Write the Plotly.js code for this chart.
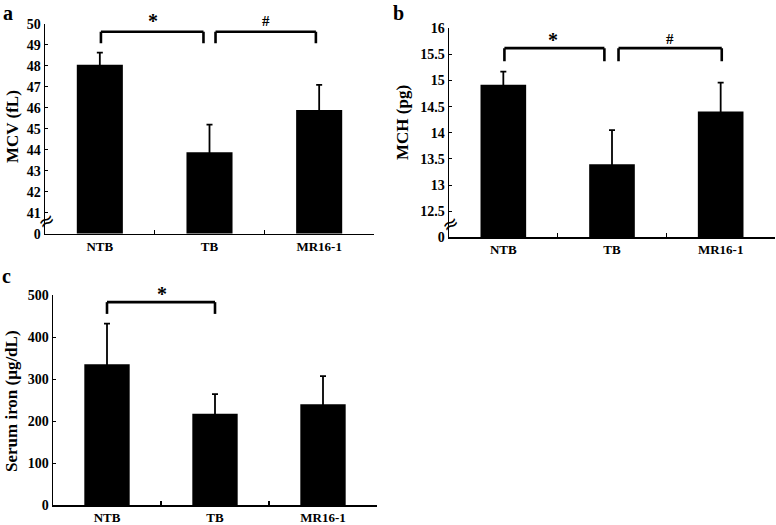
<!DOCTYPE html>
<html>
<head>
<meta charset="utf-8">
<script src="https://cdn.plot.ly/plotly-3.0.1.min.js"></script>
<style>html,body{margin:0;padding:0;background:#fff;}#chart{width:776px;height:525px;}</style>
</head>
<body>
<div id="chart"></div>
<script>
const categories = ['NTB', 'TB', 'MR16-1'];
const mcv = [48.05, 43.88, 45.9];
const mcvErr = [0.58, 1.32, 1.2];
const mch = [14.92, 13.4, 14.41];
const mchErr = [0.25, 0.65, 0.55];
const iron = [335, 217, 240];
const ironErr = [97, 47, 67];
const mcvTickVals = [40, 41, 42, 43, 44, 45, 46, 47, 48, 49, 50];
const mcvTickText = ['0', '41', '42', '43', '44', '45', '46', '47', '48', '49', '50'];
const mchTickVals = [12, 12.5, 13, 13.5, 14, 14.5, 15, 15.5, 16];
const mchTickText = ['0', '12.5', '13', '13.5', '14', '14.5', '15', '15.5', '16'];
const ironTickVals = [0, 100, 200, 300, 400, 500];

const W = 776, H = 525;
const FONT = 'Liberation Serif';

function barTrace(y, err, xa, ya) {
  return {
    type: 'bar', x: categories, y: y, xaxis: xa, yaxis: ya,
    width: 0.42, marker: {color: '#000', line: {width: 0}},
    error_y: {type: 'data', symmetric: true, array: err,
              color: '#000', thickness: 1.8, width: 3},
    showlegend: false, hoverinfo: 'skip'
  };
}

function xAxis(domain, anchor) {
  return {
    domain: domain, anchor: anchor, type: 'category', range: [-0.5, 2.5],
    showline: true, linecolor: '#000', linewidth: 1.5,
    ticks: 'inside', tickson: 'boundaries', ticklen: 4, tickwidth: 1.2, tickcolor: '#000',
    showgrid: false, zeroline: false,
    tickfont: {family: FONT, size: 13, color: '#000', weight: 'bold'}
  };
}
function yAxis(domain, anchor, range, tv, tt) {
  return {
    domain: domain, anchor: anchor, range: range,
    tickmode: 'array', tickvals: tv, ticktext: tt,
    showline: true, linecolor: '#000', linewidth: 1.5,
    ticks: 'inside', ticklen: 3, tickwidth: 1, tickcolor: '#000',
    showgrid: false, zeroline: false,
    tickfont: {family: FONT, size: 14, color: '#000', weight: 'bold'}
  };
}

function bracket(xa, ya, x0, x1, yt, yb) {
  const l = {color: '#000', width: 2.6};
  return [
    {type: 'line', xref: xa, yref: ya, x0: x0, x1: x1, y0: yt, y1: yt, line: l},
    {type: 'line', xref: xa, yref: ya, x0: x0, x1: x0, y0: yt, y1: yb, line: l},
    {type: 'line', xref: xa, yref: ya, x0: x1, x1: x1, y0: yt, y1: yb, line: l}
  ];
}

function ann(text, x, y, size, extra) {
  return Object.assign({
    text: text, x: x / W, y: 1 - y / H, xref: 'paper', yref: 'paper',
    showarrow: false, xanchor: 'center', yanchor: 'middle',
    font: {family: FONT, size: size, color: '#000', weight: 'bold'}
  }, extra || {});
}
function dataAnn(text, xa, ya, x, y, size) {
  return {text: text, xref: xa, yref: ya, x: x, y: y, showarrow: false,
          xanchor: 'center', yanchor: 'middle',
          font: {family: FONT, size: size, color: '#000', weight: 'bold'}};
}

const data = [
  barTrace(mcv, mcvErr, 'x', 'y'),
  barTrace(mch, mchErr, 'x2', 'y2'),
  barTrace(iron, ironErr, 'x3', 'y3')
];

const layout = {
  width: W, height: H,
  margin: {l: 0, r: 0, t: 0, b: 0},
  paper_bgcolor: '#fff', plot_bgcolor: '#fff',
  showlegend: false,
  xaxis: xAxis([45 / W, 374 / W], 'y'),
  yaxis: yAxis([1 - 233.6 / H, 1 - 24 / H], 'x', [40, 50], mcvTickVals, mcvTickText),
  xaxis2: xAxis([449 / W, 775 / W], 'y2'),
  yaxis2: yAxis([1 - 237.3 / H, 1 - 28.3 / H], 'x2', [12, 16], mchTickVals, mchTickText),
  xaxis3: xAxis([53 / W, 377 / W], 'y3'),
  yaxis3: yAxis([1 - 505 / H, 1 - 295 / H], 'x3', [0, 500], ironTickVals, ironTickVals.map(String)),
  shapes: [].concat(
    bracket('x', 'y', 0.01, 0.945, 49.63, 49.08),
    bracket('x', 'y', 1.055, 1.97, 49.63, 49.08),
    bracket('x2', 'y2', 0.01, 0.93, 15.62, 15.37),
    bracket('x2', 'y2', 1.06, 2.01, 15.62, 15.37),
    bracket('x3', 'y3', 0.0, 1.0, 483, 455)
  ),
  annotations: [
    ann('*', 153, 21, 20),
    ann('#', 266, 21, 15),
    dataAnn('*', 'x2', 'y2', 0.46, 15.77, 20),
    dataAnn('#', 'x2', 'y2', 1.53, 15.79, 15),
    ann('*', 162, 294, 20),
    ann('a', 8, 0, 20, {yanchor: 'top'}),
    ann('b', 399, 0, 20, {yanchor: 'top'}),
    ann('c', 7, 276, 20),
    ann('MCV (fL)', 13, 127, 17, {textangle: -90}),
    ann('MCH (pg)', 402, 123, 17, {textangle: -90}),
    ann('Serum iron (\u03bcg/dL)', 11, 401, 17, {textangle: -90}),
    ann('\u2248', 46, 221, 20, {textangle: -30, font: {family: 'DejaVu Sans', size: 20, color: '#000'}}),
    ann('\u2248', 450, 224, 20, {textangle: -30, font: {family: 'DejaVu Sans', size: 20, color: '#000'}})
  ]
};

Plotly.newPlot('chart', data, layout, {displayModeBar: false, staticPlot: true});
</script>
</body>
</html>
